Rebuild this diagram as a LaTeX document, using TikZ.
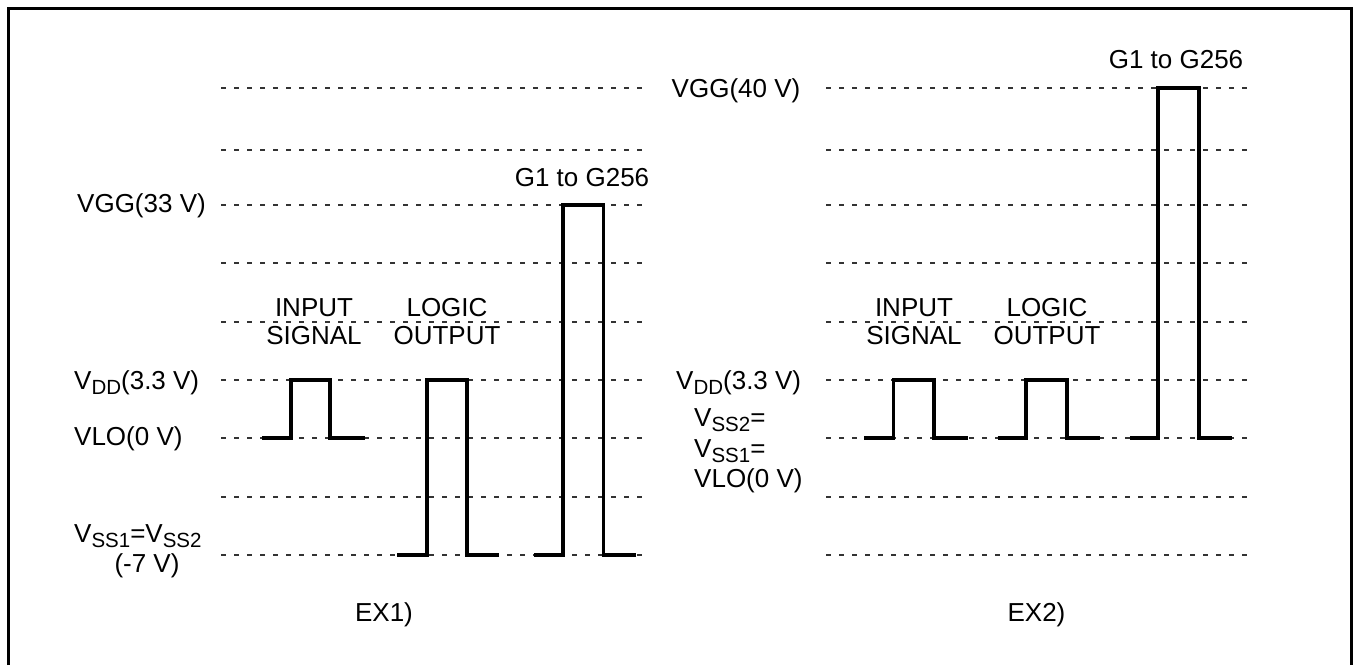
\documentclass[tikz,border=0pt]{standalone}
\usepackage{fontspec}
\setmainfont{Liberation Sans}
\newcommand{\subsc}[1]{\raisebox{-5pt}{\fontsize{20.5}{20}\selectfont #1}}
\begin{document}
\begin{tikzpicture}[x=1pt,y=-1pt,
  grid/.style={black!80,line width=1.1pt,dash pattern=on 5pt off 8pt},
  wave/.style={black,line width=3.4pt,line join=miter},
  lbl/.style={inner sep=0pt,font=\fontsize{26}{28}\selectfont},
  lblc/.style={lbl,align=center,anchor=base}]
\useasboundingbox (0,0) rectangle (1353,665);
\draw[line width=3pt] (8,665) -- (8,8) -- (1351.5,8) -- (1351.5,665);
% ---------- EX1 grid ----------
\foreach \yy in {88,150,205,263,322,380,438,497,555}
  \draw[grid] (221,\yy) -- (646,\yy);
% ---------- EX2 grid ----------
\foreach \yy in {88,150,205,263,322,380,438,497,555}
  \draw[grid] (826,\yy) -- (1251,\yy);
% ---------- EX1 waveforms ----------
\draw[wave] (262,438) -- (291,438) -- (291,380) -- (330,380) -- (330,438) -- (365,438);
\draw[wave] (397,555) -- (427,555) -- (427,380) -- (467,380) -- (467,555) -- (499,555);
\draw[wave] (534,555) -- (563,555) -- (563,205) -- (603.5,205) -- (603.5,555) -- (636,555);
% ---------- EX2 waveforms ----------
\draw[wave] (864,438) -- (893.5,438) -- (893.5,380) -- (934,380) -- (934,438) -- (967.5,438);
\draw[wave] (997.5,438) -- (1026,438) -- (1026,380) -- (1067,380) -- (1067,438) -- (1100,438);
\draw[wave] (1130,438) -- (1158,438) -- (1158,88) -- (1199,88) -- (1199,438) -- (1232,438);
% ---------- EX1 labels ----------
\node[lbl,anchor=base west] (vgg1) at (77,212) {VGG(33 V)};
\node[lbl,anchor=base west] (vdd1) at (74,389) {V\subsc{DD}(3.3 V)};
\node[lbl,anchor=base west] (vlo1) at (74,445) {VLO(0 V)};
\node[lbl,anchor=base west] (vss1) at (74,542) {V\subsc{SS1}=V\subsc{SS2}};
\node[lblc] (m7) at (147,572) {(-7 V)};
\node[lblc] (in1) at (314,344) {INPUT\\SIGNAL};
\node[lblc] (lo1) at (447,344) {LOGIC\\OUTPUT};
\node[lblc] (g1) at (582,186) {G1 to G256};
\node[lblc] (ex1) at (384,621) {EX1)};
% ---------- EX2 labels ----------
\node[lbl,anchor=base west] (vgg2) at (671.5,97) {VGG(40 V)};
\node[lbl,anchor=base west] (vdd2) at (676,389) {V\subsc{DD}(3.3 V)};
\node[lbl,anchor=base west] (vss2a) at (694,426) {V\subsc{SS2}=};
\node[lbl,anchor=base west] (vss2b) at (694,457) {V\subsc{SS1}=};
\node[lbl,anchor=base west] (vlo2) at (694,487) {VLO(0 V)};
\node[lblc] (in2) at (914,344) {INPUT\\SIGNAL};
\node[lblc] (lo2) at (1047,344) {LOGIC\\OUTPUT};
\node[lblc] (g2) at (1176,68) {G1 to G256};
\node[lblc] (ex2) at (1036.5,621) {EX2)};
\end{tikzpicture}
\end{document}
